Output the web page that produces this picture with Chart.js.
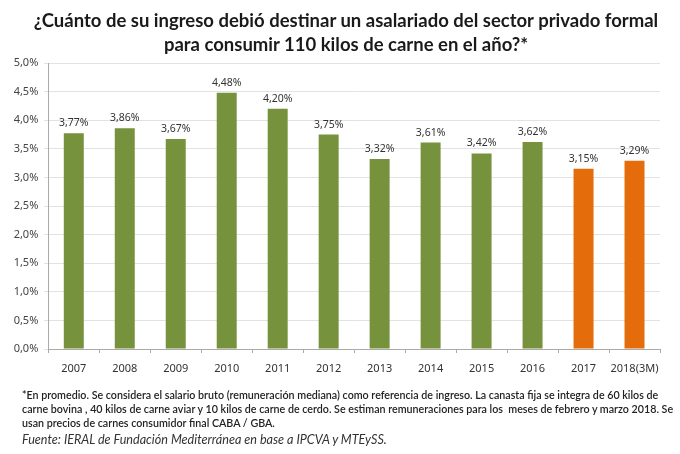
<!DOCTYPE html>
<html lang="es">
<head>
<meta charset="utf-8">
<script src="https://cdn.jsdelivr.net/npm/chart.js@4"></script>
<style>
  html, body { margin: 0; padding: 0; background: #fff; }
  #wrap { position: relative; width: 680px; height: 454px; overflow: hidden; }
  #titulo { position: absolute; left: 0; top: 8px; width: 692px; text-align: center; font: bold 18.5px/24px Lato, sans-serif; color: #1a1a1a; white-space: nowrap; }
  #nota { position: absolute; left: 22px; top: 388px; width: 650px; font: 600 10.7px/14px Lato, sans-serif; color: #222; white-space: nowrap; }
  #fuente { position: absolute; left: 22px; top: 432px; font: italic 12.6px/15px Lato, sans-serif; color: #333; white-space: nowrap; }
</style>
</head>
<body>
<div id="wrap">
  <canvas id="grafico" width="680" height="454"></canvas>
  <div id="titulo">¿Cuánto de su ingreso debió destinar un asalariado del sector privado formal<br>para consumir 110 kilos de carne en el año?*</div>
  <div id="nota">*En promedio. Se considera el salario bruto (remuneración mediana) como referencia de ingreso. La canasta fija se integra de 60 kilos de<br>carne bovina , 40 kilos de carne aviar y 10 kilos de carne de cerdo. Se estiman remuneraciones para los&nbsp; meses de febrero y marzo 2018. Se<br>usan precios de carnes consumidor final CABA / GBA.</div>
  <div id="fuente">Fuente: IERAL de Fundación Mediterránea en base a IPCVA y MTEySS.</div>
</div>
<script>
const anios   = ['2007', '2008', '2009', '2010', '2011', '2012', '2013', '2014', '2015', '2016', '2017', '2018(3M)']
const valores = [3.77, 3.86, 3.67, 4.48, 4.20, 3.75, 3.32, 3.61, 3.42, 3.62, 3.15, 3.29]
const colores = ['#76923c', '#76923c', '#76923c', '#76923c', '#76923c', '#76923c', '#76923c', '#76923c', '#76923c', '#76923c', '#e46c0a', '#e46c0a']

const coma = (v, dec) => v.toFixed(dec).replace('.', ',') + '%'

// etiquetas de valor sobre cada barra
const etiquetas = {
  id: 'etiquetas',
  afterDatasetsDraw(chart) {
    const { ctx } = chart
    ctx.save()
    ctx.font = '10.5px "Noto Sans", sans-serif'
    ctx.fillStyle = '#333'
    ctx.textAlign = 'center'
    ctx.textBaseline = 'alphabetic'
    chart.getDatasetMeta(0).data.forEach((barra, i) => {
      ctx.fillText(coma(valores[i], 2), barra.x, barra.y - 7)
    })
    ctx.restore()
  },
}

new Chart(document.getElementById('grafico'), {
  type: 'bar',
  data: {
    labels: anios,
    datasets: [{ data: valores, backgroundColor: colores, barPercentage: 0.392, categoryPercentage: 1 }],
  },
  options: {
    responsive: false,
    animation: false,
    layout: { padding: { left: 0, right: 20, top: 63, bottom: 75 } },
    plugins: {
      legend: { display: false },
      tooltip: { enabled: false },
    },
    scales: {
      x: {
        grid: { drawOnChartArea: false, drawTicks: true, tickLength: 4, color: '#aaa' },
        border: { color: '#aaa' },
        ticks: { color: '#333', font: { family: 'Noto Sans', size: 11 }, padding: 9, maxRotation: 0, autoSkip: false },
        afterFit(eje) { eje.height = 30 },
      },
      y: {
        min: 0,
        max: 5,
        grid: { color: '#e2e2e2', tickLength: 4 },
        border: { color: '#aaa' },
        ticks: { stepSize: 0.5, color: '#444', padding: 6, font: { family: 'Noto Sans', size: 11 }, callback: v => coma(v, 1) },
        afterFit(eje) { eje.width = 48.3 },
      },
    },
  },
  plugins: [etiquetas],
})
</script>
</body>
</html>
